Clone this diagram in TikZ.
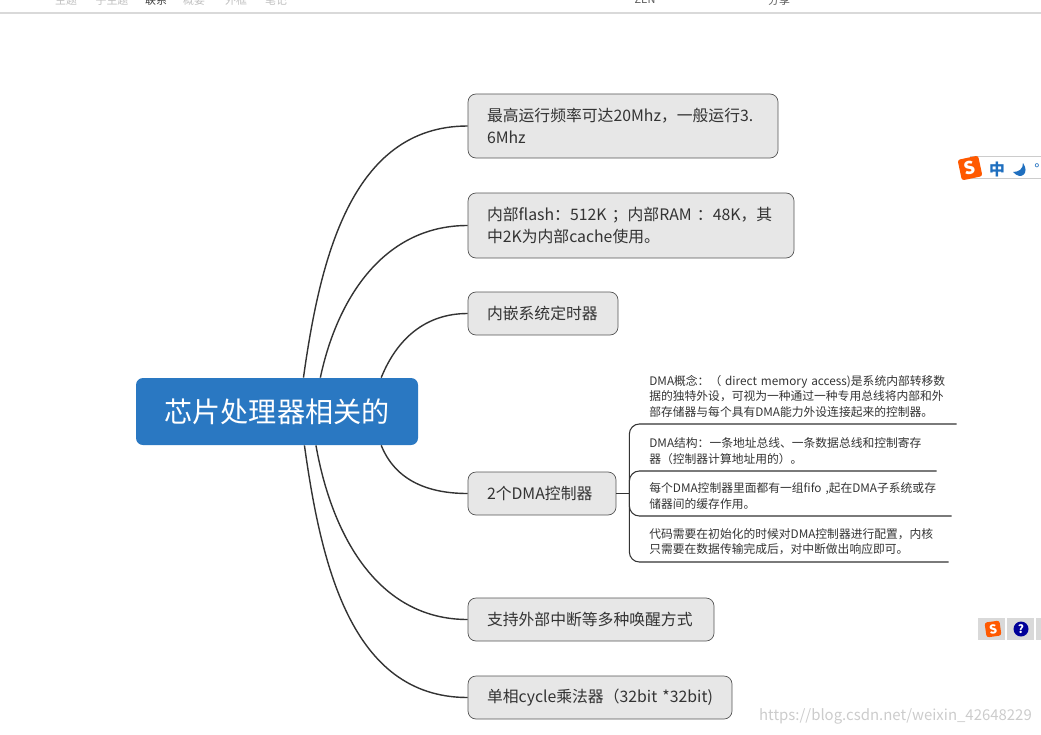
\documentclass[tikz,border=0pt]{standalone}
\usepackage{fontspec}
\setmainfont{Noto Sans CJK SC}
\usetikzlibrary{positioning}
\definecolor{fRootBlue}{HTML}{2A78C2}
\definecolor{fBoxGrey}{HTML}{E7E7E7}
\definecolor{fInk}{HTML}{333333}
\definecolor{fEdge}{HTML}{555555}
\definecolor{fImeBlue}{HTML}{1F6FBF}
\tikzstyle{fRoot} = [rectangle, rounded corners=0.14cm, minimum width=5.64cm, minimum height=1.34cm, text centered, fill=fRootBlue, text=white, font=\fontsize{16}{20}\selectfont]
\tikzstyle{fTopic} = [rectangle, rounded corners=0.16cm, text width=#1, inner xsep=0.38cm, inner ysep=0cm, minimum height=0.86cm, align=left, draw=fEdge, fill=fBoxGrey, text=fInk, font=\fontsize{9}{12.2}\selectfont]
\tikzstyle{fSub} = [rectangle, anchor=south west, text width=#1, inner sep=0cm, inner ysep=0.13cm, align=left, text=fInk, font=\fontsize{6.7}{8.8}\selectfont]
\tikzstyle{fLink} = [line width=0.8pt, draw=fInk]
\tikzstyle{fBranch} = [line width=0.6pt, draw=fInk, rounded corners=0.2cm]
\tikzstyle{fMenu} = [text=black!25, font=\fontsize{6.2}{7}\selectfont]
\tikzstyle{fLogo} = [rectangle, rounded corners=0.05cm, fill=orange!70!red, text=white, inner sep=0cm, minimum size=0.42cm, font=\bfseries\fontsize{10}{10}\selectfont]
\begin{document}
\begin{tikzpicture}[node distance=2cm]
    \useasboundingbox (0,0) rectangle (20.82,14.68);
    \node (root) [fRoot] at (5.54,6.45) {芯片处理器相关的};
    \node (freqTopic) [fTopic=5.44cm, minimum height=1.28cm] at (12.46,12.16) {最高运行频率可达20Mhz，一般运行3.\\6Mhz};
    \node (flashTopic) [fTopic=5.76cm, minimum height=1.3cm, below of=freqTopic, xshift=0.16cm, yshift=0.01cm] {内部flash：512K ；内部RAM ：48K，其\\中2K为内部cache使用。};
    \node (timerTopic) [fTopic=2.24cm, below of=flashTopic, xshift=-1.76cm, yshift=0.24cm] {内嵌系统定时器};
    \node (dmaTopic) [fTopic=2.2cm, below of=timerTopic, xshift=-0.02cm, yshift=-1.6cm] {2个DMA控制器};
    \node (wakeTopic) [fTopic=4.16cm, below of=dmaTopic, xshift=0.98cm, yshift=-0.52cm] {支持外部中断等多种唤醒方式};
    \node (multTopic) [fTopic=4.52cm, below of=wakeTopic, xshift=0.18cm, yshift=0.44cm] {单相cycle乘法器（32bit *32bit)};

    \node (conceptSub) [fSub=6.14cm] at (12.98,6.2) {DMA概念：（ direct memory access)是系统内部转移数\\据的独特外设，可视为一种通过一种专用总线将内部和外\\部存储器与每个具有DMA能力外设连接起来的控制器。};
    \node (structSub) [fSub=5.74cm] at (12.98,5.26) {DMA结构：一条地址总线、一条数据总线和控制寄存\\器（控制器计算地址用的）。};
    \node (fifoSub) [fSub=6.04cm] at (12.98,4.36) {每个DMA控制器里面都有一组fifo ,起在DMA子系统或存\\储器间的缓存作用。};
    \node (codeSub) [fSub=5.98cm] at (12.98,3.44) {代码需要在初始化的时候对DMA控制器进行配置，内核\\只需要在数据传输完成后，对中断做出响应即可。};
    \coordinate (dmaBranch) at ([xshift=0.26cm]dmaTopic.east);

    \draw [fLink] (root.52) to[out=82,in=180] (freqTopic.west);
    \draw [fLink] (root.38) to[out=78,in=180] (flashTopic.west);
    \draw [fLink] (root.18) to[out=68,in=180] (timerTopic.west);
    \draw [fLink] (root.-18) to[out=-68,in=180] (dmaTopic.west);
    \draw [fLink] (root.-41) to[out=-80,in=180] (wakeTopic.west);
    \draw [fLink] (root.-51) to[out=-82,in=180] (multTopic.west);
    \draw [fBranch] (dmaTopic.east) -- (dmaBranch);
    \draw [fBranch] (dmaBranch) |- (conceptSub.south east);
    \draw [fBranch] (dmaBranch) |- (structSub.south east);
    \draw [fBranch] (dmaBranch) |- (fifoSub.south east);
    \draw [fBranch] (dmaBranch) |- (codeSub.south east);

    \draw [black!15, line width=0.6pt] (0,14.42) -- (20.82,14.42);
    \node (menuA) [fMenu] at (1.32,14.68) {主题};
    \node (menuB) [fMenu] at (2.24,14.68) {子主题};
    \node (menuC) [fMenu, text=black!75] at (3.12,14.68) {联系};
    \node (menuD) [fMenu] at (3.88,14.68) {概要};
    \node (menuE) [fMenu] at (4.72,14.68) {外框};
    \node (menuF) [fMenu] at (5.52,14.68) {笔记};
    \node (menuG) [fMenu, text=black!65] at (12.9,14.68) {ZEN};
    \node (menuH) [fMenu, text=black!65] at (15.58,14.68) {分享};

    \draw [black!20, fill=white] (19.4,11.12) rectangle (21,11.56);
    \node (imeLogo) [fLogo, rotate=12] at (19.4,11.32) {S};
    \node (imeMode) [text=fImeBlue, inner sep=0cm, font=\bfseries\fontsize{9}{9}\selectfont] at (19.94,11.3) {中};
    \fill [fImeBlue] (20.46,11.42) .. controls (20.6,11.22) and (20.42,11.06) .. (20.26,11.24) .. controls (20.38,11.24) and (20.46,11.3) .. (20.46,11.42);
    \node (imeDot) [text=fImeBlue, inner sep=0cm, font=\fontsize{8}{8}\selectfont] at (20.74,11.3) {°};
    \fill [black!15] (19.56,1.88) rectangle (20.82,2.32);
    \draw [white, line width=0.6pt] (20.12,1.88) -- (20.12,2.32) (20.7,1.88) -- (20.7,2.32);
    \node (barLogo) [fLogo, minimum size=0.3cm, font=\bfseries\fontsize{7}{7}\selectfont, rotate=8] at (19.86,2.1) {S};
    \node (barHelp) [circle, fill=blue!60!black, text=white, inner sep=0cm, minimum size=0.3cm, font=\bfseries\fontsize{6.5}{7}\selectfont] at (20.42,2.1) {?};
    \node (mark) [text=black!20, font=\fontsize{8.5}{10}\selectfont, anchor=east] at (20.76,0.35) {https://blog.csdn.net/weixin\_42648229};
\end{tikzpicture}
\end{document}
